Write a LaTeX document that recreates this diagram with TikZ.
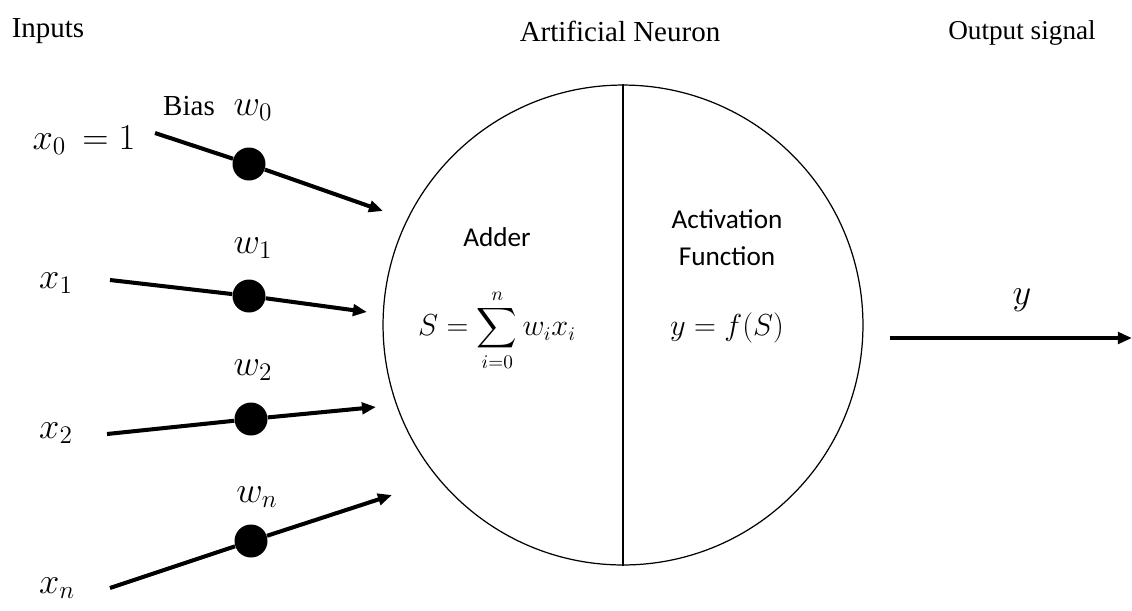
\documentclass[tikz,border=0pt]{standalone}
\usepackage{amsmath,amssymb}
\usepackage{fontspec}
\setmainfont{Liberation Serif}
\newfontfamily\calib{Carlito}
\usepackage{tikz}
\usetikzlibrary{positioning,arrows.meta,calc}

\begin{document}
\begin{tikzpicture}[
    x=0.02cm, y=-0.02cm,
    ttl/.style  = {font=\fontsize{16.5}{20}\selectfont, inner sep=0pt},
    inlab/.style= {font=\fontsize{20}{24}\selectfont, inner sep=0pt},
    wgt/.style  = {circle, fill=black, minimum size=0.66cm, inner sep=0pt},
    sig/.style  = {draw, line width=2.3pt,
                   -{Triangle[length=8pt,width=6.5pt]}},
    blk/.style  = {font=\calib\fontsize{15.5}{19}\selectfont, inner sep=0pt,
                   align=center},
    eqn/.style  = {font=\fontsize{16}{19}\selectfont, inner sep=0pt},
]
\useasboundingbox (0,0) rectangle (1132,610);

% ============ headings ============
\node[ttl] (hin)  at (48,31)   {Inputs};
\node[ttl] (hneu) at (620,31)  {Artificial Neuron};
\node[ttl, font=\fontsize{15.5}{19}\selectfont] (hout) at (1022,33) {Output signal};

% ============ neuron: adder | activation ============
\node[circle, draw, line width=0.7pt, minimum size=9.6cm, inner sep=0pt]
  (neuron) at (623,325) {};
\draw[line width=0.7pt] (neuron.north) -- (neuron.south);
\node[blk] (add) at (497,237) {Adder};
\node[eqn] (sum) at (497,330) {$\displaystyle S=\sum_{i=0}^{n} w_i x_i$};
\node[blk] (act) at (727,238) {Activation\\[2pt]Function};
\node[eqn] (fun) at (727,328) {$y=f(S)$};

% ============ inputs and weights ============
% bias input x0 = 1
\node[inlab] (x0) at (84,140) {$x_0\,=1$};
\node[ttl] (bias) at (189,106) {Bias};
\node[inlab] (w0) at (253,110) {$w_0$};
\coordinate (s0) at (155,133);
\node[wgt] (d0) at (249,164) {};
\coordinate (e0) at (383,211);
\draw[sig] (s0) -- (d0) -- (e0);

% x1
\node[inlab] (x1) at (56,283) {$x_1$};
\node[inlab] (w1) at (253,248) {$w_1$};
\coordinate (s1) at (110,280);
\node[wgt] (d1) at (249,296) {};
\coordinate (e1) at (367,312);
\draw[sig] (s1) -- (d1) -- (e1);

% x2
\node[inlab] (x2) at (56,433) {$x_2$};
\node[inlab] (w2) at (253,370) {$w_2$};
\coordinate (s2) at (107,434);
\node[wgt] (d2) at (251,419) {};
\coordinate (e2) at (376,407);
\draw[sig] (s2) -- (d2) -- (e2);

% xn
\node[inlab] (xn) at (57,588) {$x_n$};
\node[inlab] (wn) at (257,497) {$w_n$};
\coordinate (sn) at (110,588);
\node[wgt] (dn) at (251,541) {};
\coordinate (en) at (392,495);
\draw[sig] (sn) -- (dn) -- (en);

% ============ output ============
\coordinate (ys) at (890,338);
\coordinate (ye) at (1132,338);
\draw[sig] (ys) -- (ye);
\node[inlab] (yl) at (1022,300) {$y$};

\end{tikzpicture}
\end{document}
